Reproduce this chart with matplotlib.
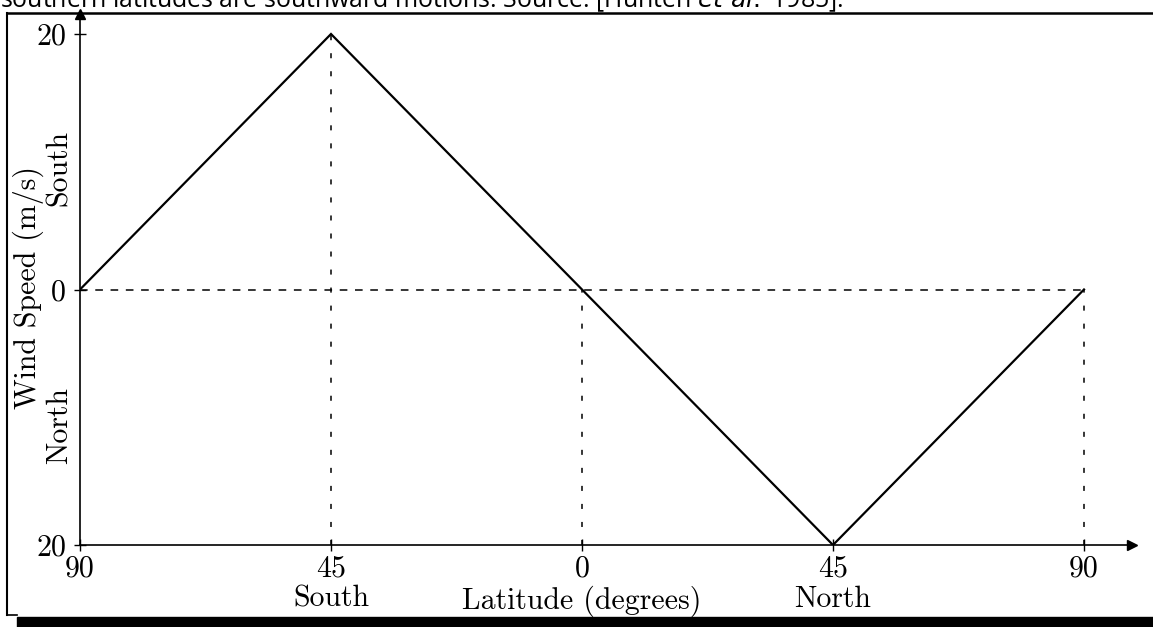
import matplotlib
matplotlib.use("Agg")
import matplotlib.pyplot as plt
from matplotlib.lines import Line2D
from matplotlib.patches import Rectangle

latitude = [-90, -45, 0, 45, 90]
wind_speed = [0, 20, 0, -20, 0]          # positive = southward
x_tick_labels = ["90", "45\nSouth", "0\nLatitude (degrees)", "45\nNorth", "90"]
y_ticks = [-20, 0, 20]
y_tick_labels = ["20", "0", "20"]
caption = "southern latitudes are southward motions. Source: [Hunten $\\mathit{et\\ al.}$ 1985]."

plt.rcParams["font.family"] = ["cmr10", "DejaVu Serif"]
plt.rcParams["mathtext.fontset"] = "cm"
FS = 21.5

W, H = 1153, 627
fig = plt.figure(figsize=(W / 100, H / 100), dpi=100)

ax = fig.add_axes([80 / W, 1 - 545 / H, (1132 - 80) / W, (545 - 14) / H])
x_right = 90 + (1132 - 1084) / ((1084 - 80) / 180)
y_top = 20 + (34 - 14) / ((545 - 34) / 40)
ax.set_xlim(-90, x_right)
ax.set_ylim(-20, y_top)

ax.plot(latitude, wind_speed, color="black", lw=1.6, solid_joinstyle="miter")
ax.hlines(0, latitude[0], latitude[-1], colors="black", lw=1.1, linestyles=(0, (5, 5)))
ax.vlines(latitude[1:], -20, wind_speed[1:], colors="black", lw=1.1, linestyles=(0, (3.3, 8.5)))

for s in ["top", "right"]:
    ax.spines[s].set_visible(False)
for s in ["left", "bottom"]:
    ax.spines[s].set_linewidth(1.2)
ax.plot(1, -20, ">", color="black", ms=7, transform=ax.get_yaxis_transform(), clip_on=False)
ax.plot(-90, 1, "^", color="black", ms=7, transform=ax.get_xaxis_transform(), clip_on=False)

ax.set_xticks(latitude)
ax.set_xticklabels(x_tick_labels, fontsize=FS, linespacing=1.15)
ax.set_yticks(y_ticks)
ax.set_yticklabels(y_tick_labels, fontsize=FS)
ax.tick_params(axis="both", direction="inout", length=8, width=1, color="black")
ax.tick_params(axis="x", pad=3)
ax.tick_params(axis="y", pad=6)

fig.text(28 / W, 1 - 288 / H, "Wind Speed (m/s)", rotation=90, ha="center", va="center", fontsize=FS)
fig.text(59 / W, 1 - 168 / H, "South", rotation=90, ha="center", va="center", fontsize=FS)
fig.text(59 / W, 1 - 426 / H, "North", rotation=90, ha="center", va="center", fontsize=FS)

# frame of the scanned page
fig.add_artist(Line2D([7 / W, 7 / W], [1 - 13 / H, 1 - 615 / H], transform=fig.transFigure, color="black", lw=1.5))
fig.add_artist(Line2D([7 / W, 1], [1 - 13 / H, 1 - 13 / H], transform=fig.transFigure, color="black", lw=1.8))
fig.add_artist(Line2D([7 / W, 17 / W], [1 - 615 / H, 1 - 615 / H], transform=fig.transFigure, color="black", lw=1.2))
fig.add_artist(Rectangle((17 / W, 0), 1 - 17 / W, 10 / H, transform=fig.transFigure, color="black"))

fig.text(0, 1 - 7 / H, caption, ha="left", va="baseline", fontsize=17.9,
         family=["Open Sans", "DejaVu Sans"], math_fontfamily="dejavusans")

fig.savefig("out.png", dpi=100)
